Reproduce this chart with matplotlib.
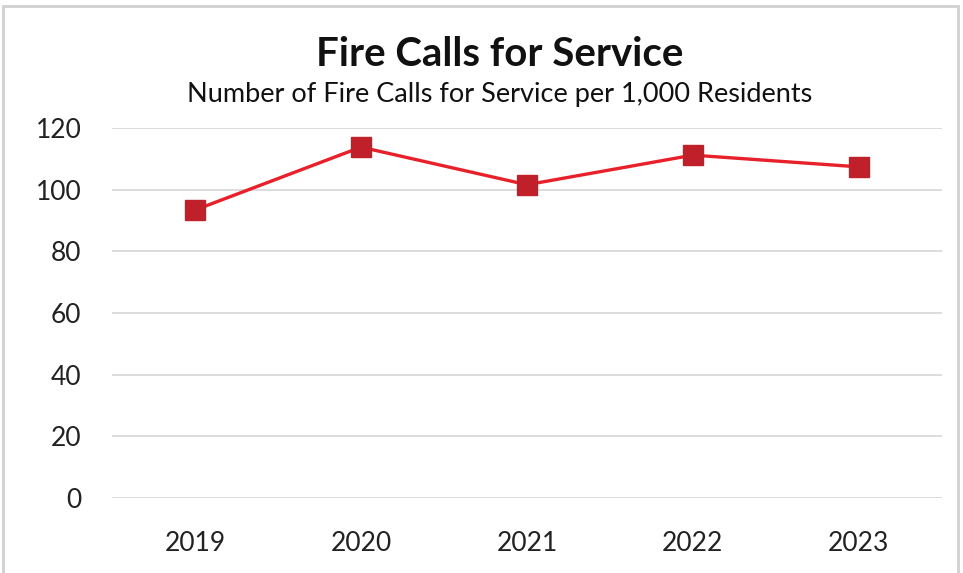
import matplotlib.pyplot as plt
from matplotlib.patches import Rectangle

years = ['2019', '2020', '2021', '2022', '2023']
calls_per_1000 = [93.4, 113.8, 101.6, 111.2, 107.4]
y_ticks = [0, 20, 40, 60, 80, 100, 120]

plt.rcParams['font.family'] = ['Lato', 'DejaVu Sans']

fig = plt.figure(figsize=(9.63, 5.73), dpi=100)
ax = fig.add_axes([0.1163, 0.1309, 0.978 - 0.1163, 0.6457])

# outer chart border
fig.patches.append(Rectangle((0.003, -0.01), 0.992, 1.0, transform=fig.transFigure,
                             fill=False, edgecolor='#d0d0d0', linewidth=2))

x = list(range(len(years)))
ax.plot(x, calls_per_1000, color='#e8202a', linewidth=2.4, marker='s',
        markersize=14, markerfacecolor='#c0202a', markeredgecolor='#c0202a', zorder=3)

ax.set_xlim(-0.5, len(years) - 0.5)
ax.set_ylim(0, 120)
ax.set_xticks(x)
ax.set_xticklabels(years)
ax.set_yticks(y_ticks)
ax.tick_params(axis='both', length=0, labelsize=19, colors='#222222')
ax.tick_params(axis='x', pad=24)
ax.tick_params(axis='y', pad=22)
ax.grid(axis='y', color='#d9d9d9', linewidth=1.3)
ax.set_axisbelow(True)
for s in ax.spines.values():
    s.set_visible(False)

fig.text(0.519, 0.905, 'Fire Calls for Service', ha='center', va='center',
         fontsize=29, fontweight='bold', color='#111111')
fig.text(0.519, 0.835, 'Number of Fire Calls for Service per 1,000 Residents',
         ha='center', va='center', fontsize=19.5, color='#111111')

fig.savefig('out.png', dpi=100)
